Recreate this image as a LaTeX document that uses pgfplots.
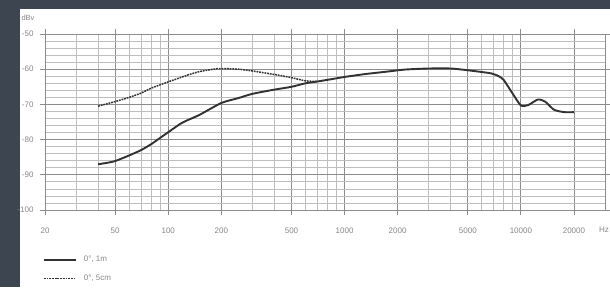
\documentclass[border=0pt]{standalone}
\usepackage{fontspec}
\setmainfont{Liberation Sans}
\usepackage{pgfplots}
\pgfplotsset{compat=1.18}
\definecolor{frame}{RGB}{61,70,80}
\definecolor{txt}{RGB}{135,135,135}
\definecolor{curve}{RGB}{50,50,50}
\definecolor{gmaj}{RGB}{140,140,140}
\definecolor{gmin}{RGB}{190,190,190}

\pgfplotstableread{
f db
40 -87.0
45 -86.6
50 -86.1
60 -84.5
70 -83.0
80 -81.3
90 -79.5
100 -77.9
120 -75.2
150 -73.0
200 -69.6
250 -68.2
300 -67.0
400 -65.8
500 -65.0
600 -64.0
700 -63.5
850 -62.8
1000 -62.2
1300 -61.4
1800 -60.6
2200 -60.1
3000 -59.8
4000 -59.8
5000 -60.3
6000 -60.8
6800 -61.2
7500 -62.0
8000 -63.1
9000 -67.0
10000 -70.3
11000 -70.2
12500 -68.6
13800 -69.3
15400 -71.5
17600 -72.2
20000 -72.2
}\tblnear

\pgfplotstableread{
f db
40 -70.5
50 -69.2
60 -68.0
70 -66.8
80 -65.4
100 -63.6
130 -61.6
150 -60.7
180 -60.0
200 -59.8
250 -60.0
300 -60.5
400 -61.5
500 -62.4
600 -63.3
700 -63.5
}\tblclose

\begin{document}
\begin{tikzpicture}
\useasboundingbox (0pt,0pt) rectangle (610pt,287pt);
\fill[frame] (0pt,0pt) rectangle (610pt,287pt);
\fill[white] (20pt,0pt) rectangle (610pt,278pt);
\node[txt, font=\fontsize{8}{9}\selectfont, anchor=west, inner sep=0pt] at (599pt,57pt) {Hz};
\node[txt, font=\fontsize{7.5}{8}\selectfont, inner sep=0pt] at (28pt,269pt) {dBv};
\begin{axis}[
  at={(45pt,77pt)}, anchor=south west, scale only axis,
  width=560pt, height=176pt,
  xmode=log, xmin=20, xmax=30000, ymin=-100, ymax=-50,
  xtick={20,50,100,200,500,1000,2000,5000,10000,20000},
  xticklabels={20,50,100,200,500,1000,2000,5000,10000,20000},
  minor xtick={30,40,60,70,80,90,300,400,600,700,800,900,3000,4000,6000,7000,8000,9000,30000},
  ytick={-100,-90,-80,-70,-60,-50},
  yticklabels={-100,-90,-80,-70,-60,-50},
  minor ytick={-98,-96,-94,-92,-88,-86,-84,-82,-78,-76,-74,-72,-68,-66,-64,-62,-58,-56,-54,-52},
  grid=both,
  major grid style={gmaj, line width=0.8pt},
  minor grid style={gmin, line width=0.7pt},
  tick align=outside, major tick length=5pt, minor tick length=0pt,
  tick style={gmaj, line width=0.8pt},
  axis line style={gmaj, line width=0.8pt},
  ticklabel style={txt, font=\fontsize{8}{9}\selectfont},
  xticklabel style={yshift=-9pt},
  yticklabel style={xshift=-3pt},
  legend style={at={(-0.004,-0.255)}, anchor=north west, draw=none, fill=none,
    inner sep=0pt, row sep=10pt, font=\fontsize{8}{9}\selectfont, text=txt,
    nodes={inner sep=1pt}},
  legend cell align=left,
  legend image code/.code={\draw[#1] (0pt,0pt) -- (32pt,0pt);},
  /tikz/every odd column/.append style={column sep=6pt},
]
\addplot[curve, line width=1.9pt, smooth, tension=0.4] table[x=f, y=db] {\tblnear};
\addlegendentry{0°, 1m}
\addplot[curve, line width=1.5pt, dash pattern=on 1.8pt off 0.9pt, smooth, tension=0.4] table[x=f, y=db] {\tblclose};
\addlegendentry{0°, 5cm}
\end{axis}
\end{tikzpicture}
\end{document}
